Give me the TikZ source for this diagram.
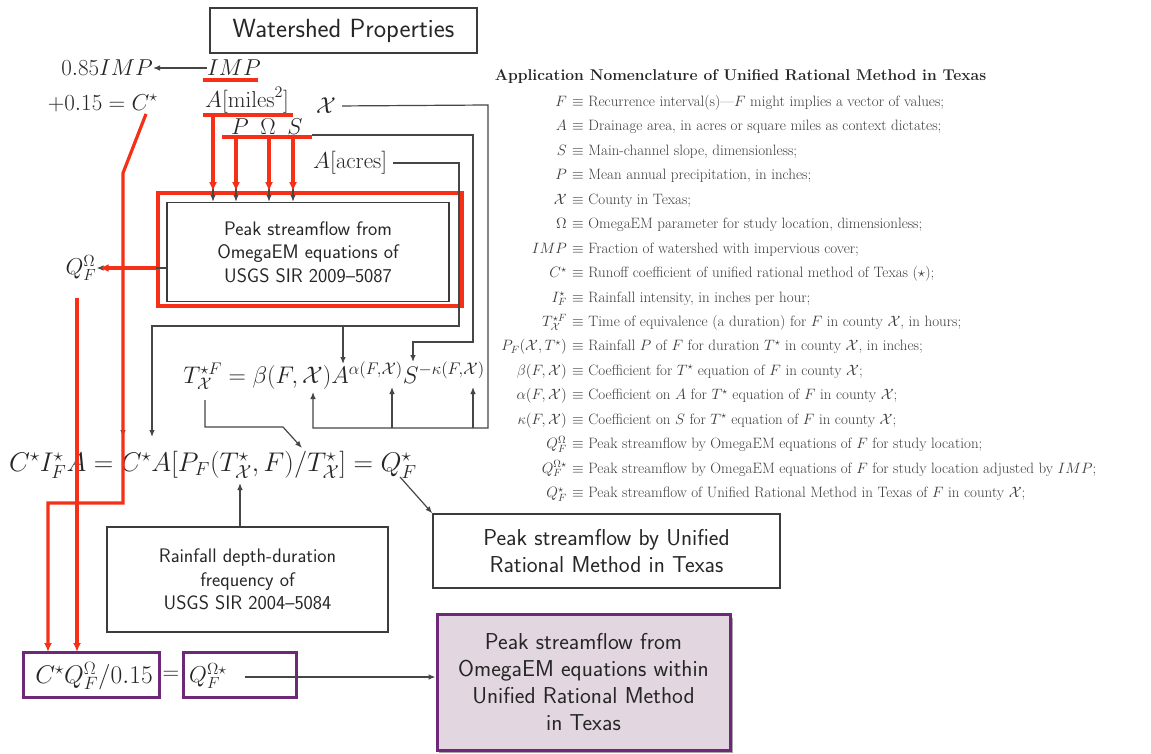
\RequirePackage{fix-cm}
\documentclass[tikz,border=0pt]{standalone}
\usetikzlibrary{arrows.meta}
\definecolor{redl}{RGB}{245,48,22}
\definecolor{lgray}{RGB}{70,70,70}
\definecolor{bgray}{RGB}{60,60,60}
\definecolor{purp}{RGB}{110,40,120}
\definecolor{pfill}{RGB}{226,214,224}
\definecolor{ntext}{RGB}{60,60,60}
\newcommand\nrow[4]{%
  \node[nl, anchor=base east] (#1l) at (567,#2) {\smash{#3}};
  \node[nl, anchor=base west] (#1r) at (572,#2) {\smash{$\equiv$ #4}};}
\begin{document}
\begin{tikzpicture}[x=1pt,y=-1pt,
  gl/.style={draw=lgray, line width=1.2pt},
  garr/.style={gl, -{Latex[length=7pt,width=5.5pt]}},
  rl/.style={draw=redl, line width=3.2pt},
  rarr/.style={rl, -{Latex[length=9pt,width=8pt]}},
  graybox/.style={draw=bgray, line width=1.4pt, align=center, inner sep=0pt, text=black!85},
  sfA/.style={font=\sffamily\fontsize{19.6}{23.5}\selectfont},
  sfB/.style={font=\sffamily\fontsize{23}{27.3}\selectfont},
  mth/.style={font=\fontsize{23}{27}\selectfont, inner sep=0pt, text=black!85},
  nl/.style={font=\fontsize{15}{17}\selectfont, inner sep=0pt, text=ntext},
  purpbox/.style={draw=purp, line width=3pt, inner sep=0pt},
]
\useasboundingbox (0,0) rectangle (1151,754);
\fill[white] (0,0) rectangle (1151,754);

% ---------- nodes ----------
\node[graybox, minimum width=267pt, minimum height=45pt, font=\sffamily\fontsize{26.3}{30}\selectfont] (ws) at (343.5,30.5) {Watershed Properties};

\node[mth, anchor=east] (imp85) at (153,68) {$0.85IMP$};
\node[mth, anchor=west] (imp) at (207,68) {$IMP$};
\node[mth, anchor=east] (cstar) at (158,103) {$+0.15=C^\star$};
\node[mth, anchor=west] (amiles) at (205,100) {$A[\mathrm{miles}^2]$};
\node[mth] (chi) at (326,106) {$\mathcal{X}$};
\node[mth] (pp) at (240,127) {$P$};
\node[mth] (om) at (268,127) {$\Omega$};
\node[mth] (ss) at (295,127) {$S$};
\node[mth, anchor=west] (aacres) at (313,163) {$A[\mathrm{acres}]$};

\node[graybox, sfA, minimum width=282pt, minimum height=99pt] (omega) at (308,252) {Peak streamflow from\\OmegaEM equations of\\USGS SIR 2009--5087};
\node[draw=redl, line width=3.6pt, minimum width=304pt, minimum height=113pt, inner sep=0pt] (redbox) at (310,249.5) {};

\node[mth] (qom) at (81,268) {$Q_F^\Omega$};
\node[mth, font=\fontsize{24}{28}\selectfont] (teq) at (334,376) {$T^{\star F}_{\mathcal X} = \beta(F,\mathcal X)A^{\alpha(F,\mathcal X)}S^{-\kappa(F,\mathcal X)}$};
\node[mth, anchor=west, font=\fontsize{27}{31}\selectfont] (meq) at (9,465) {$C^\star I^\star_F A = C^\star A[P_F(T^\star_{\mathcal X},F)/T^\star_{\mathcal X}] = Q^\star_F$};

\node[graybox, sfA, minimum width=281pt, minimum height=105pt] (rain) at (247.5,579.5) {Rainfall depth-duration\\frequency of\\USGS SIR 2004--5084};
\node[graybox, sfB, minimum width=347pt, minimum height=74pt] (urm) at (606.5,551) {Peak streamflow by Unified\\Rational Method in Texas};

\fill[gray!70] (439,618) rectangle (733,753);
\node[purpbox, fill=pfill, sfB, align=center, text=black!85, minimum width=293pt, minimum height=136pt] (ombox) at (583.5,682) {Peak streamflow from\\OmegaEM equations within\\Unified Rational Method\\in Texas};

\node[purpbox, minimum width=136pt, minimum height=45pt] (b1) at (91,674.5) {};
\node[mth, font=\fontsize{25.5}{29}\selectfont] (b1t) at (94,676) {$C^\star Q_F^\Omega/0.15$};
\node[mth] (eqs) at (171,675) {$=$};
\node[purpbox, minimum width=113pt, minimum height=45pt] (b2) at (239.5,674.5) {};
\node[mth, anchor=west] (qos) at (189,676) {$Q_F^{\Omega\star}$};

% ---------- nomenclature ----------
\node[font=\bfseries\fontsize{15.6}{18}\selectfont, anchor=base, text=black!85, inner sep=0pt] (ntitle) at (740.5,80.5) {Application Nomenclature of Unified Rational Method in Texas};
\nrow{nF}{106.5}{$F$}{Recurrence interval(s)---$F$ might implies a vector of values;}
\nrow{nA}{130.9}{$A$}{Drainage area, in acres or square miles as context dictates;}
\nrow{nS}{155.4}{$S$}{Main-channel slope, dimensionless;}
\nrow{nP}{179.8}{$P$}{Mean annual precipitation, in inches;}
\nrow{nX}{204.3}{$\mathcal{X}$}{County in Texas;}
\nrow{nO}{228.7}{$\Omega$}{OmegaEM parameter for study location, dimensionless;}
\nrow{nI}{253.1}{$IMP$}{Fraction of watershed with impervious cover;}
\nrow{nC}{277.6}{$C^\star$}{Runoff coefficient of unified rational method of Texas ($\star$);}
\nrow{nIF}{302}{$I_F^\star$}{Rainfall intensity, in inches per hour;}
\nrow{nT}{326.5}{$T_{\mathcal X}^{\star F}$}{Time of equivalence (a duration) for $F$ in county $\mathcal X$, in hours;}
\nrow{nPF}{350.9}{$P_F(\mathcal X,T^\star)$}{Rainfall $P$ of $F$ for duration $T^\star$ in county $\mathcal X$, in inches;}
\nrow{nB}{375.3}{$\beta(F,\mathcal X)$}{Coefficient for $T^\star$ equation of $F$ in county $\mathcal X$;}
\nrow{nAl}{399.8}{$\alpha(F,\mathcal X)$}{Coefficient on $A$ for $T^\star$ equation of $F$ in county $\mathcal X$;}
\nrow{nK}{424.2}{$\kappa(F,\mathcal X)$}{Coefficient on $S$ for $T^\star$ equation of $F$ in county $\mathcal X$;}
\nrow{nQO}{448.7}{$Q_F^\Omega$}{Peak streamflow by OmegaEM equations of $F$ for study location;}
\nrow{nQOs}{473.1}{$Q_F^{\Omega\star}$}{Peak streamflow by OmegaEM equations of $F$ for study location adjusted by $IMP$;}
\nrow{nQs}{497.5}{$Q_F^\star$}{Peak streamflow of Unified Rational Method in Texas of $F$ in county $\mathcal X$;}

% ---------- coordinates ----------
\coordinate (cs0) at (146,114);
\coordinate (cs1) at (123,173);
\coordinate (cs2) at (123,503);
\coordinate (cs3) at (48,503);
\coordinate (csE) at (123,437);
\coordinate (b1C) at (48,652);
\coordinate (qoT) at (77,298);
\coordinate (b1Q) at (77,652);
\coordinate (aS) at (213,115);
\coordinate (pS) at (236,137);
\coordinate (oS) at (269,137);
\coordinate (sS) at (293,137);
\coordinate (ac1) at (459,163);
\coordinate (ac2) at (459,326);
\coordinate (ac3) at (152,326);
\coordinate (ac4) at (152,437);
\coordinate (ac5) at (343,326);
\coordinate (ac6) at (343,364);
\coordinate (s0) at (312,135);
\coordinate (s1) at (473,135);
\coordinate (s2) at (473,342);
\coordinate (s3) at (413,342);
\coordinate (s4) at (413,362);
\coordinate (x1) at (488,105);
\coordinate (x2) at (488,428);
\coordinate (x3) at (313,428);
\coordinate (x4) at (313,392);
\coordinate (xa) at (392,428);
\coordinate (xa2) at (392,387);
\coordinate (xk) at (473,428);
\coordinate (xk2) at (473,387);
\coordinate (t0) at (205,400);
\coordinate (t1) at (205,427);
\coordinate (t2) at (283,427);
\coordinate (t3) at (302,448);
\coordinate (r1) at (240,483);
\coordinate (q0) at (400,477);
\coordinate (qos0) at (245,677);

% ---------- gray connectors ----------
\draw[garr] (imp.west) -- (imp85.east);
\draw[garr] (cs0) -- (cs1) -- (csE);
\draw[garr] (aS) -- (aS |- omega.north);
\draw[garr] (pS) -- (pS |- omega.north);
\draw[garr] (oS) -- (oS |- omega.north);
\draw[garr] (sS) -- (sS |- omega.north);
\draw[garr] (omega.west |- qom.east) -- (qom.east);
\draw[garr, shorten <=6pt] (aacres.east) -- (ac1) -- (ac2) -- (ac3) -- (ac4);
\draw[garr] (ac5) -- (ac6);
\draw[garr] (s0) -- (s1) -- (s2) -- (s3) -- (s4);
\draw[garr, shorten <=6pt] (chi.east) -- (x1) -- (x2) -- (x3) -- (x4);
\draw[garr] (xa) -- (xa2);
\draw[garr] (xk) -- (xk2);
\draw[garr] (t0) -- (t1) -- (t2) -- (t3);
\draw[garr] (rain.north -| r1) -- (r1);
\draw[garr] (q0) -- (urm.north west);
\draw[garr] (qos0) -- (ombox.west |- qos0);

% ---------- red overlay ----------
\draw[rl] (203,80) -- (258,80);
\draw[rl] (203,115) -- (293,115);
\draw[rl] (222,137) -- (312,137);
\draw[rarr] (aS) -- (aS |- redbox.north);
\draw[rarr] (pS) -- (pS |- redbox.north);
\draw[rarr] (oS) -- (oS |- redbox.north);
\draw[rarr] (sS) -- (sS |- redbox.north);
\draw[rarr] (redbox.west |- qom.east) -- ([xshift=3pt]qom.east);
\draw[rarr, line join=miter] (cs0) -- (cs1) -- (cs2) -- (cs3) -- (b1C);
\draw[rarr] (qoT) -- (b1Q);
\end{tikzpicture}
\end{document}
